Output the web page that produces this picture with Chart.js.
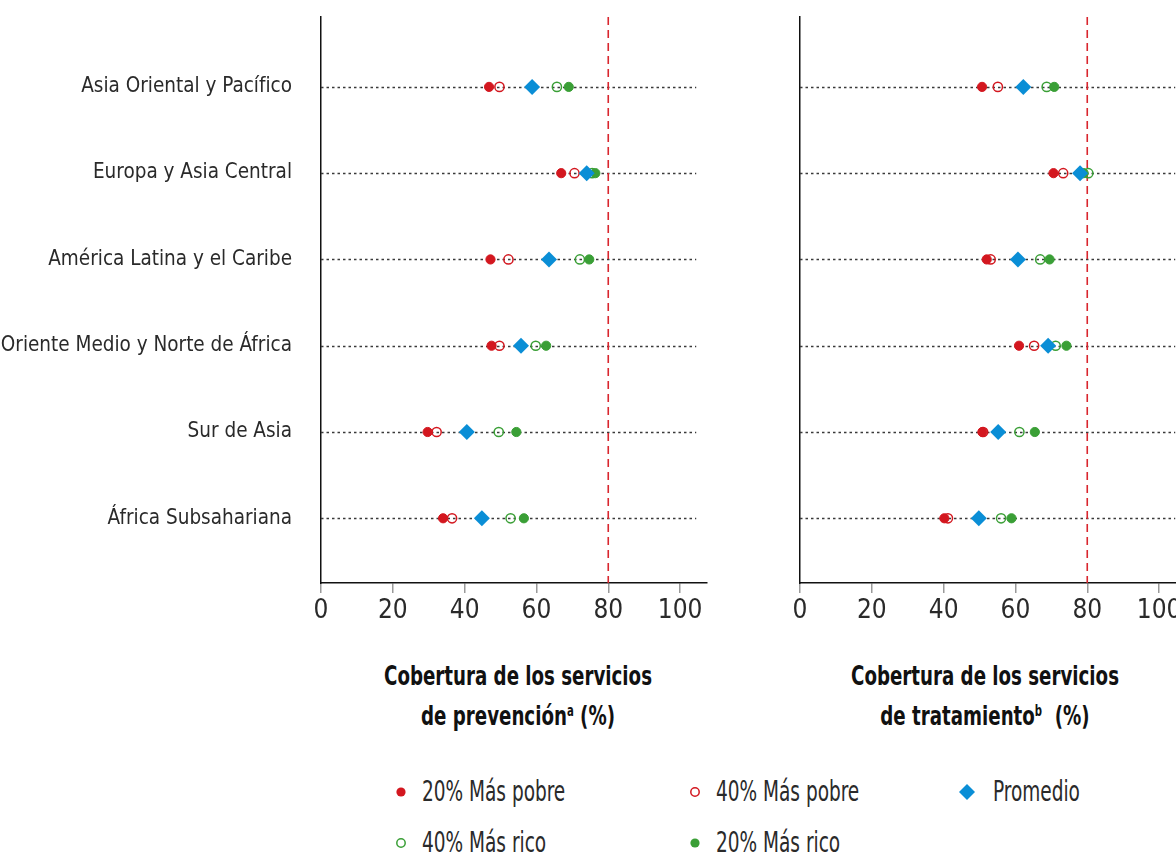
<!DOCTYPE html>
<html lang="es">
<head>
<meta charset="utf-8">
<script src="https://cdn.jsdelivr.net/npm/chart.js@4.4.1/dist/chart.umd.min.js"></script>
<style>
  html, body { margin: 0; padding: 0; background: #fff; width: 1176px; height: 857px; overflow: hidden; }
  body { position: relative; font-family: "DejaVu Sans Condensed", "Liberation Sans Narrow", sans-serif; color: #222; }
  canvas { position: absolute; top: 0; }
  .axis-title { position: absolute; width: 420px; text-align: center; font-weight: bold; font-size: 27px; line-height: 40px; color: #111; transform: scaleX(0.75); }
  .axis-title sup { font-size: 15px; vertical-align: 9px; line-height: 0; }
  .legend-item { position: absolute; font-size: 28px; line-height: 30px; white-space: nowrap; color: #2a2a2a; }
  .legend-item .label { display: inline-block; transform: scaleX(0.735); transform-origin: left center; }
  .legend-item .mark { position: absolute; left: -21px; top: 15px; transform: translate(-50%, -50%); line-height: 0; }
</style>
</head>
<body>
<canvas id="prevention" width="740" height="650" style="left:0"></canvas>
<canvas id="treatment" width="450" height="650" style="left:770px"></canvas>

<div class="axis-title" style="left:308px; top:656px">Cobertura de los servicios<br>de prevención<sup>a</sup> (%)</div>
<div class="axis-title" style="left:775px; top:656px">Cobertura de los servicios<br>de tratamiento<sup>b</sup>&nbsp; (%)</div>

<div id="legend"></div>

<script>
/* Categories (top to bottom) */
const regions = [
    "Asia Oriental y Pacífico",
    "Europa y Asia Central",
    "América Latina y el Caribe",
    "Oriente Medio y Norte de África",
    "Sur de Asia",
    "África Subsahariana"
]

/* Coverage of prevention services (%) */
const prevPoorest20 = [46.8, 66.9, 47.2, 47.5, 29.7, 34.0]
const prevPoorer40  = [49.7, 70.6, 52.2, 49.7, 32.2, 36.5]
const prevAverage   = [58.8, 74.0, 63.5, 55.7, 40.6, 44.8]
const prevRicher40  = [65.7, 75.5, 72.1, 59.8, 49.5, 52.8]
const prevRichest20 = [69.0, 76.4, 74.7, 62.7, 54.4, 56.5]

/* Coverage of treatment services (%) */
const treatPoorest20 = [50.7, 70.6, 52.0, 61.0, 50.8, 40.2]
const treatPoorer40  = [55.1, 73.3, 53.1, 65.2, 51.0, 41.2]
const treatAverage   = [62.2, 78.0, 60.7, 69.1, 55.2, 49.8]
const treatRicher40  = [68.7, 80.3, 66.9, 71.2, 61.1, 56.0]
const treatRichest20 = [70.8, 79.0, 69.5, 74.2, 65.4, 58.9]

const xTicks = [0, 20, 40, 60, 80, 100]
const target = 80
const guideEnd = 104.5

const FONT = '"DejaVu Sans Condensed", "Liberation Sans Narrow", sans-serif'
const RED = "#d3171f"
const GREEN = "#3a9f36"
const BLUE = "#0a8ed6"

/* series look, shared by both panels and the legend */
const seriesStyle = {
    poorest20 : { label : "20% Más pobre", color : RED, filled : true },
    poorer40  : { label : "40% Más pobre", color : RED, filled : false },
    average   : { label : "Promedio", color : BLUE, diamond : true },
    richer40  : { label : "40% Más rico", color : GREEN, filled : false },
    richest20 : { label : "20% Más rico", color : GREEN, filled : true }
}

const toPoints = (values) => values.map((v, i) => ({ x : v, y : i }))

const makeDataset = (key, values) => {
    const s = seriesStyle[key]
    const base = {
        type : "scatter",
        label : s.label,
        data : toPoints(values),
        pointBorderColor : s.color
    }
    if (s.diamond) {
        return { ...base, pointStyle : "rectRot", pointRadius : 8, pointBackgroundColor : s.color, pointBorderWidth : 0 }
    }
    return {
        ...base,
        pointStyle : "circle",
        pointRadius : 4.6,
        pointBorderWidth : s.filled ? 1 : 1.5,
        pointBackgroundColor : s.filled ? s.color : "rgba(0,0,0,0)"
    }
}

/* dotted guide line behind each region row */
const rowGuides = {
    id : "rowGuides",
    beforeDatasetsDraw (chart) {
        const { ctx, scales : { x, y } } = chart
        ctx.save()
        ctx.strokeStyle = "#3a3a3a"
        ctx.lineWidth = 1.3
        ctx.setLineDash([2.5, 3])
        regions.forEach((r, i) => {
            const py = Math.round(y.getPixelForValue(i)) + 0.5
            ctx.beginPath()
            ctx.moveTo(x.getPixelForValue(0), py)
            ctx.lineTo(x.getPixelForValue(guideEnd), py)
            ctx.stroke()
        })
        ctx.restore()
    }
}

const Y_MIN = -0.81
const Y_MAX = 5.75

function buildChart (canvasId, series, showLabels, axisLeft) {
    const canvas = document.getElementById(canvasId)
    const datasets = [
        makeDataset("average", series.average),
        makeDataset("poorest20", series.poorest20),
        makeDataset("richest20", series.richest20),
        makeDataset("poorer40", series.poorer40),
        makeDataset("richer40", series.richer40),
        {
            type : "line",
            label : "meta",
            data : [{ x : target, y : Y_MIN }, { x : target, y : Y_MAX }],
            borderColor : "#d9262e",
            borderWidth : 1.6,
            borderDash : [8, 5],
            pointRadius : 0
        }
    ]

    return new Chart(canvas, {
        type : "scatter",
        data : { datasets : datasets },
        plugins : [rowGuides],
        options : {
            responsive : false,
            animation : false,
            layout : { padding : { top : 17, right : canvas.width - axisLeft - 386, left : 0, bottom : 0 } },
            plugins : { legend : { display : false }, tooltip : { enabled : false } },
            scales : {
                x : {
                    type : "linear",
                    min : 0,
                    max : 107.5,
                    afterBuildTicks : (s) => { s.ticks = xTicks.map(v => ({ value : v })) },
                    afterFit : (s) => { s.height = 67; s.paddingLeft = 0; s.paddingRight = 0 },
                    grid : { drawOnChartArea : false, drawTicks : true, tickLength : 10, tickColor : "#9a9a9a", lineWidth : 1.5 },
                    border : { display : true, color : "#111", width : 1.5 },
                    ticks : { padding : 3, color : "#2a2a2a", maxRotation : 0, font : { family : FONT, size : 26 } }
                },
                y : {
                    type : "linear",
                    reverse : true,
                    min : Y_MIN,
                    max : Y_MAX,
                    afterBuildTicks : (s) => { s.ticks = regions.map((r, i) => ({ value : i })) },
                    afterFit : (s) => { s.width = axisLeft; s.paddingTop = 0; s.paddingBottom = 0 },
                    grid : { display : false, drawTicks : false },
                    border : { display : true, color : "#111", width : 1.5 },
                    ticks : {
                        display : showLabels,
                        padding : 29,
                        color : "#2a2a2a",
                        font : { family : FONT, size : 20.5 },
                        callback : (v) => regions[v]
                    }
                }
            }
        }
    })
}

buildChart("prevention", {
    poorest20 : prevPoorest20, poorer40 : prevPoorer40, average : prevAverage,
    richer40 : prevRicher40, richest20 : prevRichest20
}, true, 321)

buildChart("treatment", {
    poorest20 : treatPoorest20, poorer40 : treatPoorer40, average : treatAverage,
    richer40 : treatRicher40, richest20 : treatRichest20
}, false, 30)

/* legend laid out in three columns under both panels */
const legendOrder = ["poorest20", "poorer40", "average", "richer40", "richest20"]
const legendCols = [422, 716, 993]
const legendRows = [777, 828]

const markSvg = (s) => {
    if (s.diamond) {
        return `<svg width="18" height="18"><polygon points="9,1 17,9 9,17 1,9" fill="${s.color}"/></svg>`
    }
    if (s.filled) {
        return `<svg width="12" height="12"><circle cx="6" cy="6" r="4.6" fill="${s.color}"/></svg>`
    }
    return `<svg width="12" height="12"><circle cx="6" cy="6" r="4.2" fill="none" stroke="${s.color}" stroke-width="1.5"/></svg>`
}

const legend = document.getElementById("legend")
legendOrder.forEach((key, i) => {
    const s = seriesStyle[key]
    const item = document.createElement("div")
    item.className = "legend-item"
    item.style.left = legendCols[i % 3] + "px"
    item.style.top = legendRows[Math.floor(i / 3)] + "px"
    const mark = document.createElement("span")
    mark.className = "mark"
    mark.innerHTML = markSvg(s)
    if (s.diamond) mark.style.left = "-26px"
    const text = document.createElement("span")
    text.className = "label"
    text.textContent = s.label
    item.appendChild(mark)
    item.appendChild(text)
    legend.appendChild(item)
})
</script>
</body>
</html>
